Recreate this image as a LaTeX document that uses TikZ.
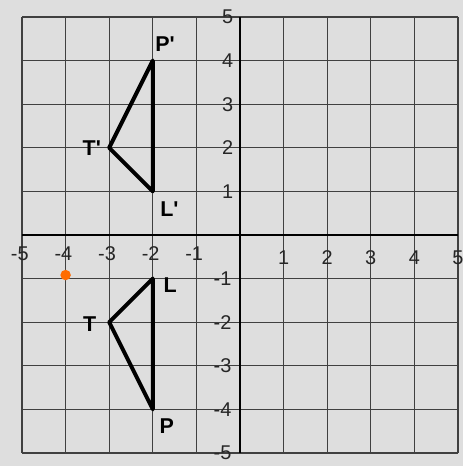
\documentclass[tikz,border=0pt]{standalone}
\usepackage{fontspec}
\setmainfont{Liberation Sans}
\begin{document}
\begin{tikzpicture}[x=1cm,y=1cm,
  gridline/.style={draw=black!75, line width=0.8pt},
  axisline/.style={draw=black, line width=1.4pt},
  tri/.style={draw=black, line width=2.6pt, line join=round},
  num/.style={font=\fontsize{13}{13}\selectfont, text=black!85, inner sep=0pt},
  pt/.style={font=\fontsize{14}{14}\selectfont\bfseries, inner sep=0pt}]
\useasboundingbox[fill=black!13] (-5.505,-5.30) rectangle (5.115,5.39);
\draw[gridline] (-5,-5) grid (5,5);
\draw[axisline] (-5,0) -- (5,0);
\draw[axisline] (0,-5) -- (0,5);
% axis numbers
\foreach \i in {1,...,5} {
  \node[num] (yp\i) at (-0.28,\i) {\i};
  \node[num] (yn\i) at (-0.4,-\i) {-\i};
  \node[num] (xp\i) at (\i,-0.52) {\i};
  \node[num] (xn\i) at (-\i-0.05,-0.42) {-\i};
}
% orange mark
\fill[orange!85!red] (-4,-0.92) circle (0.12);
% triangles
\coordinate (Pp) at (-2,4);
\coordinate (Tp) at (-3,2);
\coordinate (Lp) at (-2,1);
\coordinate (L) at (-2,-1);
\coordinate (T) at (-3,-2);
\coordinate (P) at (-2,-4);
\draw[tri] (Pp) -- (Tp) -- (Lp) -- cycle;
\draw[tri] (L) -- (T) -- (P) -- cycle;
% labels
\node[pt] (lPp) at (-1.72,4.38) {P\textquotesingle};
\node[pt] (lTp) at (-3.4,2.0) {T\textquotesingle};
\node[pt] (lLp) at (-1.62,0.6) {L\textquotesingle};
\node[pt] (lL) at (-1.6,-1.15) {L};
\node[pt] (lT) at (-3.45,-2.05) {T};
\node[pt] (lP) at (-1.68,-4.38) {P};
\end{tikzpicture}
\end{document}
